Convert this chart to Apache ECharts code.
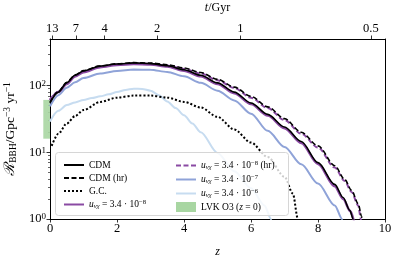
<!DOCTYPE html>
<html><head><meta charset="utf-8">
<script src="https://cdn.jsdelivr.net/npm/echarts@6/dist/echarts.min.js"></script>
<style>html,body{margin:0;padding:0;background:#fff}#c{width:399px;height:261px}</style>
</head><body><div id="c"></div>
<script>
// ---------- data ----------
const zCDM   = [0,0.25,0.5,0.75,1,1.5,2,2.5,3,3.5,4,4.5,5,5.5,6,6.5,7,7.5,8,8.5,8.75,8.95,9.05,9.08];
const rCDM   = [55,80,110,143,166,196,211,219,214,199,173,143,110,80,55,37,24,14.5,7,3.3,2.1,1.35,1.0,0.6];

const zCDMhr = [0,0.25,0.5,0.75,1,1.5,2,2.5,3,3.5,4,4.5,5,5.5,6,6.5,7,7.5,8,8.5,8.8,9.0,9.2,9.3,9.33];
const rCDMhr = [56,82,112,145,168,198,213,221,218,206,184,157,124,95,69,48,32,20,12.5,6.3,3.9,2.7,1.7,1.1,0.6];

const zGC    = [0.05,0.25,0.5,0.75,1,1.5,2,2.5,3,3.5,4,4.5,5,5.5,6,6.5,7,7.25,7.4,7.42];
const rGC    = [12.5,19,27,35,43,57,66,71,71,66,57,47,34,22,14,8.5,4.3,2.4,1.0,0.6];

const zU8    = [0,0.25,0.5,0.75,1,1.5,2,2.5,3,3.5,4,4.5,5,5.5,6,6.5,7,7.5,8,8.5,8.75,8.97,9.08,9.1];
const rU8    = [60,80,106,137,159,189,204,211,207,193,167,138,106,77,53,35.5,23,13.8,6.7,3.1,2.0,1.3,0.95,0.6];

const zU8hr  = [0,0.25,0.5,0.75,1,1.5,2,2.5,3,3.5,4,4.5,5,5.5,6,6.5,7,7.5,8,8.5,8.8,9.0,9.2,9.28,9.31];
const rU8hr  = [62,81,108,140,162,192,207,214,212,200,178,152,120,92,66,46,30.5,19,11.8,5.9,3.7,2.55,1.6,1.0,0.6];

const zU7    = [0,0.25,0.5,0.75,1,1.5,2,2.5,3,3.5,4,4.5,5,5.5,6,6.5,7,7.5,8,8.5,8.72,8.75];
const rU7    = [49,72,93,112,130,152,166,174,173,160,138,110,84,60,38,21,12,6.6,3.4,1.6,1.0,0.6];

const zU6    = [0,0.25,0.5,0.75,1,1.25,1.5,1.75,2,2.25,2.5,2.75,3,3.25,3.5,3.75,4,4.25,4.5,5,5.5,6,6.4,6.6,6.63];
const rU6    = [29,42,51,56,61,65,69,74,80,86,90,89,84,72,58,46,36,27,20,9.8,5.2,2.9,1.6,1.0,0.6];

const lvkZ    = [-0.2, 0];     // band drawn just left of z = 0
const lvkRate = [16, 61];      // rate interval

const seriesNames = ['CDM','CDM (hr)','G.C.','u8','u8hr','u7','u6','LVK'];
const legendRich = {
  'CDM': '{n|CDM}',
  'CDM (hr)': '{n|CDM (hr)}',
  'G.C.': '{n|G.C.}',
  'u8': '{i|u}{sb|νχ}{n| = 3.4 · 10}{sp|−8}',
  'u8hr': '{i|u}{sb|νχ}{n| = 3.4 · 10}{sp|−8}{n| (hr)}',
  'u7': '{i|u}{sb|νχ}{n| = 3.4 · 10}{sp|−7}',
  'u6': '{i|u}{sb|νχ}{n| = 3.4 · 10}{sp|−6}',
  'LVK': '{n|LVK O3 (}{i|z}{n| = 0)}'
};

const xTicks = [0,2,4,6,8,10];
const yMajor = [1,10,100];
const yMinor = [2,3,4,5,6,7,8,9,20,30,40,50,60,70,80,90,200,300,400];
const topTickZ = [0.07,0.77,1.63,3.2,5.68,9.58];
const topTickLabels = ['13','7','4','2','1','0.5'];

// ---------- chart ----------
const F = '"Liberation Serif", "DejaVu Serif", serif';
const richBase = (fs) => ({
  n:  {fontFamily:F, fontSize:fs, color:'#000', lineHeight:fs+1.5},
  i:  {fontFamily:F, fontSize:fs, color:'#000', fontStyle:'italic', lineHeight:fs+1.5},
  c:  {fontFamily:F, fontSize:fs+1, color:'#000', fontStyle:'italic', lineHeight:fs+1.5},
  sb: {fontFamily:F, fontSize:fs*0.7, color:'#000', fontStyle:'italic', lineHeight:fs*0.55, verticalAlign:'bottom'},
  su: {fontFamily:F, fontSize:fs*0.7, color:'#000', lineHeight:fs*0.55, verticalAlign:'bottom'},
  sp: {fontFamily:F, fontSize:fs*0.7, color:'#000', lineHeight:fs*0.55, verticalAlign:'top'}
});

const pairs = (zs, rs) => zs.map((z, k) => [z, rs[k]]);
const chart = echarts.init(document.getElementById('c'), null, {renderer:'canvas'});

function lineSeries(name, zs, rs, color, width, type, zz) {
  return {
    type:'line', name, data: pairs(zs, rs), xAxisIndex:0, yAxisIndex:0,
    symbol:'none', showSymbol:false, smooth:0.3, smoothMonotone:'x',
    lineStyle:{color, width, type}, itemStyle:{color}, z: zz, silent:true
  };
}

const PURPLE = '#8a4aa3', BLUE = '#8fa3d8', LBLUE = '#c7dcf0', GREEN = '#a8d6a2';

const axisLineStyle = {show:true, onZero:false, lineStyle:{color:'#000', width:1}};
const legendItem = (n) => n === 'LVK'
  ? {name:n, icon:'rect', itemStyle:{opacity:1, color:GREEN}}
  : {name:n};
const legendCommon = {
  orient:'vertical', itemWidth:20, itemHeight:10, itemGap:3,
  itemStyle:{opacity:0}, formatter:(n)=>legendRich[n],
  textStyle:{rich:richBase(9.5)}, selectedMode:false
};
const option = {
  animation:false,
  grid:{left:50, right:14, top:39, bottom:42, containLabel:false, outerBoundsMode:'none'},
  xAxis:[
    {type:'value', min:0, max:10, interval:2, position:'bottom',
     axisLine:axisLineStyle,
     axisTick:{show:true, length:3.5, lineStyle:{color:'#000', width:0.8}},
     axisLabel:{color:'#000', fontFamily:F, fontSize:12.5, margin:3, customValues:xTicks},
     splitLine:{show:false},
     name:'{i|z}', nameLocation:'middle', nameGap:26, nameTextStyle:{rich:richBase(12)}},
    {type:'value', min:0, max:10, position:'top',
     axisLine:axisLineStyle,
     axisTick:{show:true, length:3.5, customValues:topTickZ, lineStyle:{color:'#000', width:0.8}},
     axisLabel:{color:'#000', fontFamily:F, fontSize:12.5, margin:4, customValues:topTickZ,
       formatter:(v)=>{let b=0;for(let k=1;k<topTickZ.length;k++){if(Math.abs(topTickZ[k]-v)<Math.abs(topTickZ[b]-v))b=k;}return topTickLabels[b];}},
     splitLine:{show:false},
     name:'{i|t}{n|/Gyr}', nameLocation:'middle', nameGap:24, nameTextStyle:{rich:richBase(12)}}
  ],
  yAxis:[
    {type:'log', logBase:10, min:1, max:500, position:'left',
     axisLine:axisLineStyle,
     axisTick:{show:true, length:3.5, customValues:yMajor, lineStyle:{color:'#000', width:0.8}},
     axisLabel:{customValues:yMajor, margin:4,
       formatter:(v)=>'{b|10}{s|'+Math.round(Math.log10(v))+'}',
       rich:{b:{fontFamily:F, fontSize:12.5, color:'#000', lineHeight:13},
             s:{fontFamily:F, fontSize:9, color:'#000', lineHeight:7, verticalAlign:'top'}}},
     splitLine:{show:false},
     name:'{c|ℛ}{su|BBH}{n|/Gpc}{sp|−3}{n| yr}{sp|−1}', nameLocation:'middle', nameGap:22, nameRotate:90,
     nameTextStyle:{rich:richBase(13.5)}},
    {type:'log', logBase:10, min:1, max:500, position:'left',
     axisLine:{show:false, onZero:false},
     axisTick:{show:true, length:2, customValues:yMinor, lineStyle:{color:'#000', width:0.6}},
     axisLabel:{show:false}, splitLine:{show:false}},
    {type:'log', logBase:10, min:1, max:500, position:'right',
     axisLine:axisLineStyle, axisTick:{show:false}, axisLabel:{show:false}, splitLine:{show:false}}
  ],
  legend:[
    Object.assign({data:seriesNames.slice(0,4).map(legendItem), left:58, top:155}, legendCommon),
    Object.assign({data:seriesNames.slice(4).map(legendItem), left:170, top:155}, legendCommon)
  ],
  graphic:[
    {type:'rect', left:55, top:152, z:3, shape:{width:233, height:63, r:3},
     style:{fill:'rgba(255,255,255,0.8)', stroke:'#d6d6d6', lineWidth:1}}
  ],
  series:[
    {type:'custom', name:'LVK', xAxisIndex:0, yAxisIndex:0, clip:false, z:1,
     itemStyle:{color:GREEN},
     encode:{x:[0,1], y:[2,3]},
     data:[[lvkZ[0], lvkZ[1], lvkRate[0], lvkRate[1]]],
     renderItem:(params, api)=>{
       const pR = api.coord([api.value(1), api.value(3)]);
       const pB = api.coord([api.value(1), api.value(2)]);
       const w = api.size([api.value(1) - api.value(0), 1])[0];
       return {type:'rect', shape:{x:pR[0]-w, y:pR[1], width:w, height:pB[1]-pR[1]},
               style:{fill:GREEN, opacity:0.9}};
     }},
    lineSeries('u6', zU6, rU6, LBLUE, 2, 'solid', 2),
    lineSeries('u7', zU7, rU7, BLUE, 2, 'solid', 2),
    lineSeries('u8', zU8, rU8, PURPLE, 2.5, 'solid', 2),
    lineSeries('u8hr', zU8hr, rU8hr, PURPLE, 2, [5,2.5], 2),
    lineSeries('CDM', zCDM, rCDM, '#000', 1.6, 'solid', 2),
    lineSeries('CDM (hr)', zCDMhr, rCDMhr, '#000', 1.6, [5,2.5], 2),
    lineSeries('G.C.', zGC, rGC, '#000', 2, [2,2], 2)
  ]
};
chart.setOption(option);
</script></body></html>
